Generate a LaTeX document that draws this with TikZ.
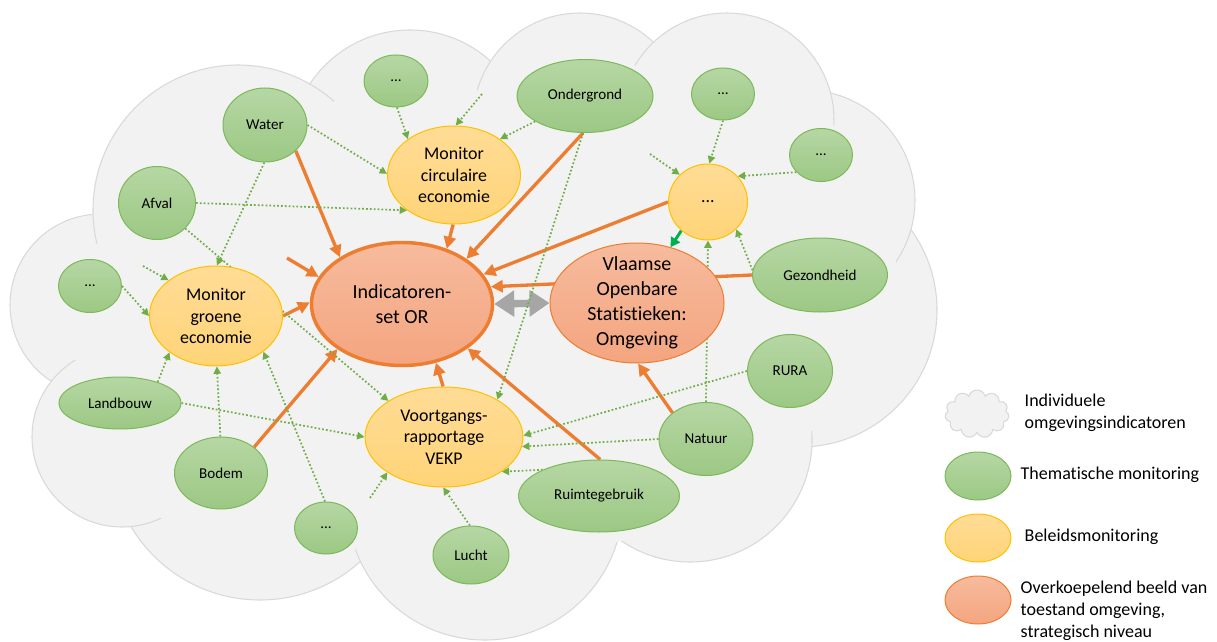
\documentclass[tikz,border=0pt]{standalone}
\usepackage{fontspec}
\setmainfont{Carlito}[Ligatures=NoCommon]
\usepackage{tikz}
\usetikzlibrary{shapes.geometric, shapes.symbols, arrows.meta}

\definecolor{cloudfill}{HTML}{F2F2F2}
\definecolor{cloudline}{HTML}{D9D9D9}
\definecolor{greentop}{HTML}{B6D7A4}
\definecolor{greenbot}{HTML}{9CC884}
\definecolor{greenline}{HTML}{7DB85A}
\definecolor{yellowtop}{HTML}{FFDC96}
\definecolor{yellowbot}{HTML}{FFD478}
\definecolor{yellowline}{HTML}{FFC000}
\definecolor{orangetop}{HTML}{F6BB9D}
\definecolor{orangebot}{HTML}{F4A580}
\definecolor{orangeline}{HTML}{ED7D31}
\definecolor{dotgreen}{HTML}{70AD47}
\definecolor{solidgreen}{HTML}{00B050}
\definecolor{arrowgrey}{HTML}{A6A6A6}

\pgfdeclarelayer{cloudlayer}
\pgfdeclarelayer{linklayer}
\pgfsetlayers{cloudlayer,linklayer,main}

\begin{document}
\begin{tikzpicture}[x=0.75pt, y=-0.75pt,
    wh/.style 2 args={minimum width=#1*0.75pt, minimum height=#2*0.75pt},
    thema/.style={ellipse, draw=greenline, line width=0.75pt, top color=greentop, bottom color=greenbot, inner sep=0pt, font=\fontsize{11.3}{13.5}\selectfont},
    beleid/.style={ellipse, draw=yellowline, line width=0.75pt, top color=yellowtop, bottom color=yellowbot, inner sep=0pt, align=center, font=\fontsize{13.4}{16.1}\selectfont},
    strat/.style={ellipse, draw=orangeline, line width=0.75pt, top color=orangetop, bottom color=orangebot, inner sep=0pt, align=center, font=\fontsize{15}{18.75}\selectfont},
    feed/.style={draw=dotgreen, line width=1.3pt, dash pattern=on 1.3pt off 1.6pt, -{Triangle[length=5.5pt,width=5.5pt]}},
    flow/.style={draw=orangeline, line width=2.5pt, -{Triangle[length=9pt,width=9pt]}},
    legtext/.style={anchor=west, align=left, font=\fontsize{13.5}{16.5}\selectfont}]

    \useasboundingbox (0,0) rectangle (1217,642);

    % Cloud of individual indicators
    \begin{pgfonlayer}{cloudlayer}
        \foreach \cx/\cy/\r in {410/150/120, 101/305/91, 238/210/145, 580/120/107, 800/310/137, 805/200/110, 727/120/107, 260/450/150, 485/502/138, 690/440/122, 122/437/90} {
            \draw[fill=cloudfill, draw=cloudline, line width=0.8pt] (\cx,\cy) circle[radius=\r];
        }
        \foreach \cx/\cy/\r in {410/150/120, 101/305/91, 238/210/145, 580/120/107, 800/310/137, 805/200/110, 727/120/107, 260/450/150, 485/502/138, 690/440/122, 122/437/90} {
            \fill[cloudfill] (\cx,\cy) circle[radius=\r-30];
        }
        \fill[cloudfill] (470,330) ellipse[x radius=380, y radius=230];
    \end{pgfonlayer}

    % Strategic level
    \node[strat, line width=2.6pt, wh={181}{123}] (indOR) at (402,304) {Indicatoren-\\set OR};
    \node[strat, wh={174}{120}, inner ysep=-4pt] (vos) at (637,303) {Vlaamse\\Openbare\\Statistieken:\\Omgeving};

    % Policy monitoring
    \node[beleid, wh={133}{98}] (monCirc) at (454,175) {Monitor\\circulaire\\economie};
    \node[beleid, wh={133}{100}] (monGroen) at (216,316) {Monitor\\groene\\economie};
    \node[beleid, wh={158}{100}] (vekp) at (444,437) {Voortgangs-\\rapportage\\VEKP};
    \node[beleid, wh={79}{76}] (moreBel) at (708,202) {...};

    % Thematic monitoring
    \node[thema, wh={64}{52}] (moreTop) at (396,81) {...};
    \node[thema, wh={84}{74}] (water) at (265,125) {Water};
    \node[thema, wh={77}{73}] (afval) at (157,203) {Afval};
    \node[thema, wh={63}{53}] (moreLeft) at (90,286) {...};
    \node[thema, wh={122}{52}] (landbouw) at (120,403) {Landbouw};
    \node[thema, wh={93}{72}] (bodem) at (221,473) {Bodem};
    \node[thema, wh={63}{52}] (moreBot) at (326,528) {...};
    \node[thema, wh={76}{58}] (lucht) at (471,555) {Lucht};
    \node[thema, wh={161}{72}] (ruimte) at (599,496) {Ruimtegebruik};
    \node[thema, wh={94}{73}] (natuur) at (706,439) {Natuur};
    \node[thema, wh={85}{73}] (rura) at (790,371) {RURA};
    \node[thema, wh={135}{74}] (gezond) at (820,275) {Gezondheid};
    \node[thema, wh={63}{53}] (moreE) at (821,155) {...};
    \node[thema, wh={63}{52}] (moreNE) at (723,94) {...};
    \node[thema, wh={136}{73}] (onder) at (585,96) {Ondergrond};

    % Loose ends
    \coordinate (stubOR) at (287,258);
    \coordinate (stubCirc) at (482,94);
    \coordinate (stubBel) at (650,154);
    \coordinate (stubGroen) at (143,266);
    \coordinate (stubVekp) at (370,498);

    \begin{pgfonlayer}{linklayer}
        % Exchange between the two overviews
        \draw[arrowgrey, line width=5.5pt, {Triangle[length=15pt,width=19pt]}-{Triangle[length=15pt,width=19pt]}] (indOR.east) -- (vos.west);

        % Flows to the strategic level
        \draw[flow] (water.-40) -- (indOR.143);
        \draw[flow] (monCirc.-91) -- (indOR.51);
        \draw[flow] (onder.-93) -- (indOR.35);
        \draw[flow] (moreBel.180) -- (indOR.20);
        \draw[flow] (gezond.180) -- (indOR.11);
        \draw[flow] (stubOR) -- (indOR.162);
        \draw[flow] (monGroen.0) -- (indOR.179);
        \draw[flow] (bodem.38) -- (indOR.-145);
        \draw[flow] (vekp.91) -- (indOR.-60);
        \draw[flow] (ruimte.88) -- (indOR.-34);
        \draw[flow] (natuur.142) -- (vos.-89);
        \draw[solidgreen, line width=2.2pt, -{Triangle[length=7pt,width=8pt]}] (moreBel.-133) -- (vos.59);

        % Feeds from thematic monitoring
        \draw[feed] (moreTop.-88) -- (monCirc.142);
        \draw[feed] (water.0) -- (monCirc.179);
        \draw[feed] (afval.0) -- (monCirc.-143);
        \draw[feed] (stubCirc) -- (monCirc.88);
        \draw[feed] (onder.-153) -- (monCirc.38);
        \draw[feed] (onder.-93) -- (vekp.35);
        \draw[feed] (moreNE.-90) -- (moreBel.88);
        \draw[feed] (stubBel) -- (moreBel.136);
        \draw[feed] (moreE.-145) -- (moreBel.41);
        \draw[feed] (gezond.176) -- (moreBel.-44);
        \draw[feed] (natuur.90) -- (moreBel.-90);
        \draw[feed] (water.-91) -- (monGroen.89);
        \draw[feed] (afval.-42) -- (vekp.147);
        \draw[feed] (moreLeft.0) -- (monGroen.180);
        \draw[feed] (stubGroen) -- (monGroen.143);
        \draw[feed] (landbouw.29) -- (monGroen.-142);
        \draw[feed] (bodem.91) -- (monGroen.-89);
        \draw[feed] (moreBot.92) -- (monGroen.-37);
        \draw[feed] (landbouw.0) -- (vekp.180);
        \draw[feed] (stubVekp) -- (vekp.-148);
        \draw[feed] (lucht.92) -- (vekp.-91);
        \draw[feed] (ruimte.155) -- (vekp.-31);
        \draw[feed] (natuur.180) -- (vekp.-7);
        \draw[feed] (rura.180) -- (vekp.1.5);
    \end{pgfonlayer}

    % Legend
    \node[cloud, cloud puffs=11, aspect=1.4, draw=cloudline, fill=cloudfill, line width=0.8pt, inner sep=0pt, wh={64}{48}] (legCloud) at (977,414) {};
    \node[thema, wh={66}{48}] (legThema) at (978,476) {};
    \node[beleid, wh={66}{48}] (legBeleid) at (978,538) {};
    \node[strat, wh={66}{48}] (legStrat) at (978,600) {};
    \node[legtext] (txtCloud) at (1020,413) {Individuele\\omgevingsindicatoren};
    \node[legtext] (txtThema) at (1016,475) {Thematische monitoring};
    \node[legtext] (txtBeleid) at (1020,537) {Beleidsmonitoring};
    \node[legtext] (txtStrat) at (1016,611) {Overkoepelend beeld van\\toestand omgeving,\\strategisch niveau};
\end{tikzpicture}
\end{document}
